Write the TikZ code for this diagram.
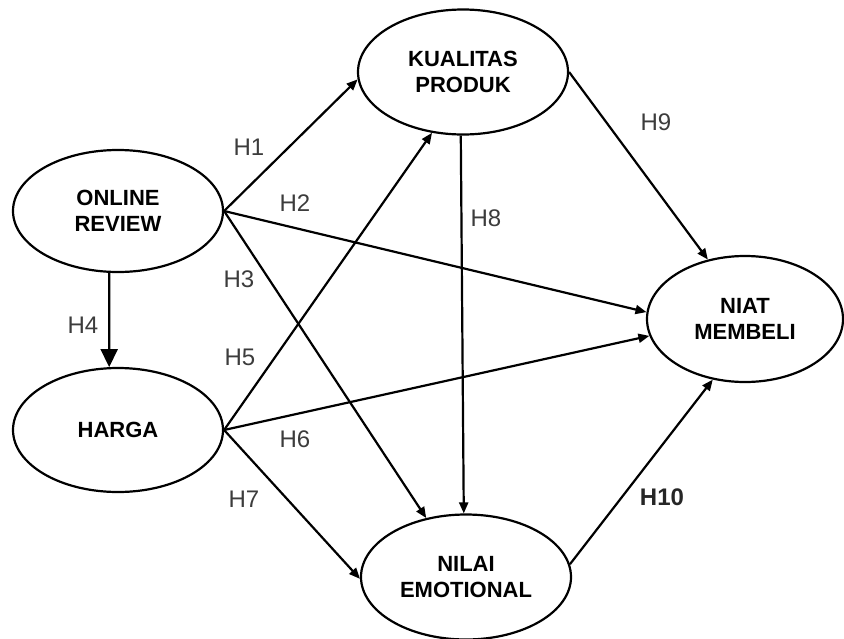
\documentclass[tikz,border=0pt]{standalone}
\usepackage{fontspec}
\setmainfont{Liberation Sans}
\usetikzlibrary{shapes.geometric,arrows.meta}
\definecolor{lblgray}{HTML}{3C3C3C}
\tikzset{
  var/.style={ellipse, draw=black, line width=2.2pt, inner sep=0pt, align=center,
    font=\fontsize{22}{26}\selectfont\bfseries},
  link/.style={line width=2.2pt, -{Triangle[length=11pt,width=9pt]}},
  biglink/.style={line width=2.2pt, -{Triangle[length=18pt,width=17pt]}},
  hlabel/.style={text=lblgray, font=\fontsize{24}{24}\selectfont, inner sep=0pt},
  hbold/.style={text=black!85, font=\fontsize{24}{24}\selectfont\bfseries, inner sep=0pt}
}
\begin{document}
\begin{tikzpicture}[x=1pt,y=-1pt]
\useasboundingbox (0,0) rectangle (844,638);
\node[var, minimum width=210pt, minimum height=122pt] (or) at (118,211) {ONLINE\\REVIEW};
\node[var, minimum width=210pt, minimum height=124pt] (hg) at (118,430) {HARGA};
\node[var, minimum width=210pt, minimum height=125pt] (kp) at (463,72) {KUALITAS\\PRODUK};
\node[var, minimum width=210pt, minimum height=125pt] (ne) at (466,577) {NILAI\\EMOTIONAL};
\node[var, minimum width=196pt, minimum height=126pt] (nm) at (745,319) {NIAT\\MEMBELI};

\draw[link] (or.east) -- (kp.184);
\draw[link] (or.east) -- (nm.176);
\draw[link] (or.east) -- (ne.124);
\draw[biglink] (or.262) -- (hg.98);
\draw[link] (hg.east) -- (kp.243);
\draw[link] (hg.east) -- (nm.190);
\draw[link] (hg.east) -- (ne.181);
\draw[link] (kp.268) -- (ne.92);
\draw[link] (kp.east) -- (nm.122);
\draw[link] (ne.7) -- (nm.242);

\node[hlabel] (h1) at (249,147) {H1};
\node[hlabel] (h2) at (295,203) {H2};
\node[hlabel] (h3) at (239,279) {H3};
\node[hlabel] (h4) at (83,325) {H4};
\node[hlabel] (h5) at (240,357) {H5};
\node[hlabel] (h6) at (295,439) {H6};
\node[hlabel] (h7) at (244,499) {H7};
\node[hlabel] (h8) at (486,218) {H8};
\node[hlabel] (h9) at (656,122) {H9};
\node[hbold] (h10) at (662,497) {H10};
\end{tikzpicture}
\end{document}
